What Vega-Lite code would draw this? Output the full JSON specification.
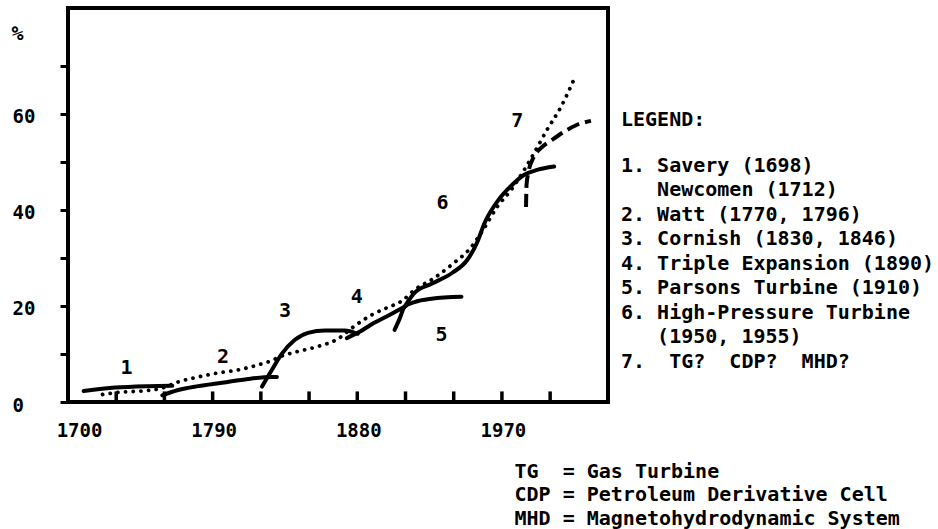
{
  "$schema": "https://vega.github.io/schema/vega-lite/v6.json",
  "background": "white",
  "padding": {"left": 8, "top": 6, "right": 4, "bottom": 4},
  "bounds": "flush",
  "spacing": 13,
  "config": {
    "font": "DejaVu Sans Mono",
    "view": {"stroke": "black", "strokeWidth": 4},
    "axis": {"labelFont": "DejaVu Sans Mono", "labelFontWeight": "bold", "labelColor": "black", "titleFont": "DejaVu Sans Mono", "titleFontWeight": "bold", "titleColor": "black", "tickColor": "black", "grid": false, "domain": false},
    "text": {"font": "DejaVu Sans Mono", "fontWeight": "bold", "color": "black"}
  },
  "datasets": {
    "xticks": [
      {"year": 1730}, {"year": 1760}, {"year": 1790}, {"year": 1820}, {"year": 1850},
      {"year": 1880}, {"year": 1910}, {"year": 1940}, {"year": 1970}, {"year": 2000}
    ],
    "curves": [
      {"curve": "1", "year": 1709.7, "pct": 2.3},
      {"curve": "1", "year": 1729.5, "pct": 3.0},
      {"curve": "1", "year": 1750.0, "pct": 3.3},
      {"curve": "1", "year": 1764.9, "pct": 3.4},
      {"curve": "2", "year": 1758.7, "pct": 1.4},
      {"curve": "2", "year": 1768.6, "pct": 2.5},
      {"curve": "2", "year": 1781.0, "pct": 3.3},
      {"curve": "2", "year": 1795.9, "pct": 4.0},
      {"curve": "2", "year": 1812.0, "pct": 4.8},
      {"curve": "2", "year": 1827.0, "pct": 5.2},
      {"curve": "2", "year": 1830.0, "pct": 5.2},
      {"curve": "3", "year": 1820.7, "pct": 3.2},
      {"curve": "3", "year": 1826.9, "pct": 6.7},
      {"curve": "3", "year": 1833.0, "pct": 10.0},
      {"curve": "3", "year": 1841.0, "pct": 12.9},
      {"curve": "3", "year": 1849.3, "pct": 14.4},
      {"curve": "3", "year": 1860.0, "pct": 14.9},
      {"curve": "3", "year": 1872.0, "pct": 14.9},
      {"curve": "3", "year": 1880.3, "pct": 14.2},
      {"curve": "4", "year": 1873.5, "pct": 13.3},
      {"curve": "4", "year": 1881.5, "pct": 14.6},
      {"curve": "4", "year": 1889.0, "pct": 16.2},
      {"curve": "4", "year": 1900.0, "pct": 18.1},
      {"curve": "4", "year": 1909.4, "pct": 19.8},
      {"curve": "5", "year": 1903.2, "pct": 15.0},
      {"curve": "5", "year": 1906.3, "pct": 17.3},
      {"curve": "5", "year": 1909.4, "pct": 19.8},
      {"curve": "5", "year": 1915.6, "pct": 20.8},
      {"curve": "5", "year": 1926.2, "pct": 21.5},
      {"curve": "5", "year": 1944.8, "pct": 21.9},
      {"curve": "6", "year": 1909.4, "pct": 19.8},
      {"curve": "6", "year": 1915.6, "pct": 22.7},
      {"curve": "6", "year": 1926.2, "pct": 24.6},
      {"curve": "6", "year": 1939.2, "pct": 26.9},
      {"curve": "6", "year": 1948.5, "pct": 29.6},
      {"curve": "6", "year": 1954.7, "pct": 33.3},
      {"curve": "6", "year": 1959.0, "pct": 37.1},
      {"curve": "6", "year": 1967.1, "pct": 41.7},
      {"curve": "6", "year": 1975.8, "pct": 45.0},
      {"curve": "6", "year": 1983.9, "pct": 47.3},
      {"curve": "6", "year": 1991.9, "pct": 48.3},
      {"curve": "6", "year": 2002.5, "pct": 49.0}
    ],
    "trend": [
      {"year": 1721.5, "pct": 1.56},
      {"year": 1733.9, "pct": 2.08},
      {"year": 1746.3, "pct": 2.29},
      {"year": 1758.7, "pct": 2.92},
      {"year": 1768.6, "pct": 4.17},
      {"year": 1781.0, "pct": 5.21},
      {"year": 1793.4, "pct": 6.04},
      {"year": 1805.8, "pct": 6.67},
      {"year": 1818.2, "pct": 7.71},
      {"year": 1824.4, "pct": 8.33},
      {"year": 1833.1, "pct": 9.58},
      {"year": 1843.1, "pct": 10.52},
      {"year": 1855.5, "pct": 11.56},
      {"year": 1867.9, "pct": 13.13},
      {"year": 1878.4, "pct": 15.83},
      {"year": 1889.0, "pct": 18.13},
      {"year": 1898.9, "pct": 19.69},
      {"year": 1907.6, "pct": 21.0},
      {"year": 1915.6, "pct": 23.33},
      {"year": 1928.0, "pct": 25.83},
      {"year": 1938.6, "pct": 28.54},
      {"year": 1951.0, "pct": 32.29},
      {"year": 1959.1, "pct": 36.25},
      {"year": 1967.1, "pct": 40.63},
      {"year": 1975.8, "pct": 44.17},
      {"year": 1983.9, "pct": 48.33},
      {"year": 1990.1, "pct": 51.88},
      {"year": 1998.1, "pct": 56.67},
      {"year": 2006.8, "pct": 61.46},
      {"year": 2016.1, "pct": 68.13}
    ],
    "future": [
      {"year": 1985.0, "pct": 40.6},
      {"year": 1985.3, "pct": 45.2},
      {"year": 1986.4, "pct": 47.7},
      {"year": 1989.5, "pct": 50.8},
      {"year": 1994.4, "pct": 52.9},
      {"year": 2000.6, "pct": 54.4},
      {"year": 2008.7, "pct": 56.25},
      {"year": 2016.8, "pct": 57.7},
      {"year": 2025.4, "pct": 58.5}
    ],
    "numbers": [
      {"label": "1", "year": 1736.4, "pct": 7.1},
      {"label": "2", "year": 1796.5, "pct": 9.4},
      {"label": "3", "year": 1835.0, "pct": 19.0},
      {"label": "4", "year": 1879.7, "pct": 21.9},
      {"label": "5", "year": 1932.4, "pct": 14.0},
      {"label": "6", "year": 1933.0, "pct": 41.5},
      {"label": "7", "year": 1979.5, "pct": 58.5}
    ],
    "legend": [
      {"line": 0, "text": "LEGEND:"},
      {"line": 1, "text": "1. Savery (1698)"},
      {"line": 2, "text": "\u200b\u00a0\u00a0\u00a0Newcomen (1712)"},
      {"line": 3, "text": "2. Watt (1770, 1796)"},
      {"line": 4, "text": "3. Cornish (1830, 1846)"},
      {"line": 5, "text": "4. Triple Expansion (1890)"},
      {"line": 6, "text": "5. Parsons Turbine (1910)"},
      {"line": 7, "text": "6. High-Pressure Turbine"},
      {"line": 8, "text": "\u200b\u00a0\u00a0\u00a0(1950, 1955)"},
      {"line": 9, "text": "7.\u00a0\u00a0TG?\u00a0\u00a0CDP?\u00a0\u00a0MHD?"}
    ]
  },
  "hconcat": [
    {
      "width": 540,
      "height": 394,
      "layer": [
        {
          "data": {"name": "xticks"},
          "mark": {"type": "rule", "strokeWidth": 3.5, "color": "black"},
          "encoding": {
            "x": {
              "field": "year", "type": "quantitative",
              "scale": {"domain": [1700, 2036], "nice": false, "zero": false},
              "axis": {
                "values": [1700, 1790, 1880, 1970],
                "format": "d",
                "ticks": false,
                "labelFontSize": 19, "labelPadding": 19, "labelBaseline": "top", "labelAlign": "center",
                "labelFlush": false, "labelOverlap": false,
                "labelOffset": {"condition": {"test": "datum.value == 1700", "value": 11}, "value": 1},
                "title": ["TG\u00a0\u00a0=\u00a0Gas\u00a0Turbine", "CDP\u00a0=\u00a0Petroleum\u00a0Derivative\u00a0Cell", "MHD\u00a0=\u00a0Magnetohydrodynamic\u00a0System"],
                "titleFontSize": 20, "titleAlign": "left", "titleAnchor": "start", "titleBaseline": "top",
                "titleX": 446, "titleY": 59, "titleLineHeight": 23.5
              }
            },
            "y": {
              "datum": 0, "type": "quantitative",
              "scale": {"domain": [0, 82], "nice": false},
              "axis": {
                "values": [0, 10, 20, 30, 40, 50, 60, 70],
                "labelExpr": "datum.value % 20 == 0 ? datum.label : ''",
                "tickSize": 8, "tickWidth": 3,
                "labelFontSize": 19, "labelAlign": "left", "labelBaseline": "middle", "labelPadding": 48, "labelOffset": 3,
                "labelFlush": false, "labelOverlap": false,
                "title": "%", "titleAngle": 0, "titleX": -51, "titleY": 25, "titleAlign": "center", "titleBaseline": "middle", "titleFontSize": 20
              }
            },
            "y2": {"datum": 2.2}
          }
        },
        {
          "data": {"name": "trend"},
          "mark": {"type": "line", "interpolate": "monotone", "strokeWidth": 3.8, "strokeDash": [0.1, 7.6], "strokeCap": "round", "color": "black"},
          "encoding": {
            "x": {"field": "year", "type": "quantitative"},
            "y": {"field": "pct", "type": "quantitative"}
          }
        },
        {
          "data": {"name": "curves"},
          "mark": {"type": "line", "interpolate": "monotone", "strokeWidth": 4, "strokeCap": "round", "color": "black"},
          "encoding": {
            "x": {"field": "year", "type": "quantitative"},
            "y": {"field": "pct", "type": "quantitative"},
            "detail": {"field": "curve", "type": "nominal"}
          }
        },
        {
          "data": {"name": "future"},
          "mark": {"type": "line", "interpolate": "monotone", "strokeWidth": 4, "strokeDash": [13, 6], "color": "black"},
          "encoding": {
            "x": {"field": "year", "type": "quantitative"},
            "y": {"field": "pct", "type": "quantitative"}
          }
        },
        {
          "data": {"name": "numbers"},
          "mark": {"type": "text", "fontSize": 20, "align": "center", "baseline": "middle"},
          "encoding": {
            "x": {"field": "year", "type": "quantitative"},
            "y": {"field": "pct", "type": "quantitative"},
            "text": {"field": "label", "type": "nominal"}
          }
        }
      ]
    },
    {
      "width": 300,
      "height": 394,
      "view": {"stroke": null},
      "data": {"name": "legend"},
      "layer": [
        {
          "transform": [{"filter": "datum.line == 0"}],
          "mark": {"type": "text", "fontSize": 20, "align": "left", "baseline": "middle", "dy": -21.5},
          "encoding": {
            "x": {"datum": 0, "type": "quantitative", "scale": {"domain": [0, 1]}, "axis": null},
            "y": {"field": "line", "type": "quantitative", "scale": {"domain": [-5.449, 10.633], "reverse": true, "nice": false, "zero": false}, "axis": null},
            "text": {"field": "text", "type": "nominal"}
          }
        },
        {
          "transform": [{"filter": "datum.line > 0"}],
          "mark": {"type": "text", "fontSize": 20, "align": "left", "baseline": "middle"},
          "encoding": {
            "x": {"datum": 0, "type": "quantitative", "scale": {"domain": [0, 1]}, "axis": null},
            "y": {"field": "line", "type": "quantitative", "axis": null},
            "text": {"field": "text", "type": "nominal"}
          }
        }
      ]
    }
  ]
}
